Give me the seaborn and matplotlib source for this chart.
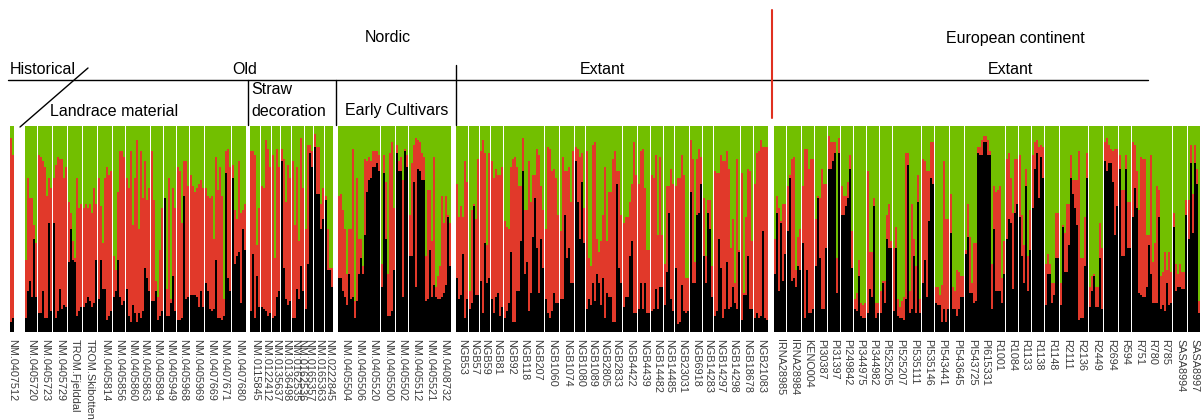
import matplotlib
matplotlib.use("Agg")
import matplotlib.pyplot as plt
import matplotlib.transforms as mtransforms
from matplotlib.lines import Line2D
import pandas as pd
import seaborn as sns

# values as (black %, black+red %); green fills up to 100
historical_labels = ["NM.0407512"]
historical_shared = [1]
historical_bars = [[(5, 94), (7, 86)]]

landrace_labels = ["NM.0405720", "NM.0405723", "NM.0405729", "TROM.Fjelddal", "TROM.Skibotten",
                   "NM.0405814", "NM.0405856", "NM.0405860", "NM.0405863", "NM.0405894",
                   "NM.0405949", "NM.0405968", "NM.0405969", "NM.0407669", "NM.0407671", "NM.0407680"]
landrace_shared = [1, 1, 1, 1, 1, 1, 1, 2, 1, 1, 1, 1, 2, 1]
landrace_bars = [
    [(7, 35), (20, 75), (25, 65), (17, 65), (45, 52), (17, 43)],
    [(9, 86), (9, 85), (20, 83), (7, 80), (7, 66), (53, 75), (10, 70)],
    [(53, 75), (7, 81), (10, 85), (21, 84), (11, 84), (13, 75), (12, 80)],
    [(34, 63), (50, 58), (35, 44), (34, 36), (8, 75), (10, 60), (12, 62)],
    [(12, 60), (14, 62), (17, 60), (15, 62), (12, 58), (14, 70), (35, 62)],
    [(16, 75), (35, 61), (21, 43), (21, 75), (6, 80), (8, 76), (10, 78)],
    [(17, 37), (20, 30), (35, 68), (17, 88), (13, 88), (15, 85)],
    [(21, 75), (8, 70), (5, 88), (13, 52), (9, 75), (5, 93), (9, 50), (7, 88), (10, 65), (31, 83), (26, 64), (20, 70)],
    [(15, 88), (15, 64), (20, 25), (6, 17), (8, 40), (10, 60)],
    [(65, 65), (8, 21), (8, 75), (14, 16), (27, 70), (10, 60)],
    [(6, 80), (6, 78), (7, 53), (66, 83), (16, 83), (17, 71)],
    [(18, 76), (18, 71), (18, 68), (17, 70), (12, 72), (20, 74), (12, 70)],
    [(24, 70), (20, 66), (11, 65), (10, 66), (11, 45), (35, 85), (7, 69), (7, 80), (6, 66), (8, 16), (77, 88), (26, 89), (20, 80)],
    [(75, 81), (33, 59), (37, 55), (39, 83), (14, 58), (50, 59), (40, 62)],
]

straw_labels = ["NM.0115845", "NM.0122412", "NM.0135637", "NM.0136498", "NM.0162535",
                "NM.0162536", "NM.0165357", "NM.0165363", "NM.0222845"]
straw_shared = [1, 1, 1, 1, 2, 1, 1, 1]
straw_bars = [
    [(10, 88), (38, 88), (7, 86), (27, 42), (12, 60)],
    [(12, 71), (11, 70), (10, 93), (8, 89), (9, 80)],
    [(7, 86), (8, 36), (17, 89), (20, 80)],
    [(83, 89), (31, 84), (16, 63), (13, 81), (15, 75)],
    [(7, 83), (7, 52), (21, 80), (16, 44), (32, 94), (20, 70)],
    [(11, 50), (33, 91), (87, 91), (80, 88)],
    [(90, 96), (67, 90), (67, 90), (50, 62), (55, 70)],
    [(64, 66), (30, 50), (30, 31), (22, 31)],
]

early_labels = ["NM.0405504", "NM.0405506", "NM.0405520", "NM.0405500",
                "NM.0405502", "NM.0405512", "NM.0405521", "NM.0408732"]
early_shared = [3, 1, 1, 3]
early_bars = [
    [(26, 66), (26, 67), (20, 59), (17, 50), (13, 28), (28, 50), (16, 50), (17, 89), (7, 15), (15, 75), (28, 45),
     (36, 45), (28, 32), (47, 84), (68, 83), (74, 85), (75, 83), (80, 88), (80, 88), (82, 88), (78, 86)],
    [(22, 33), (77, 86), (45, 73), (8, 28), (8, 87), (10, 92), (30, 60)],
    [(87, 91), (78, 83), (78, 85), (17, 74), (88, 89), (80, 86)],
    [(37, 57), (37, 82), (73, 91), (22, 94), (79, 93), (78, 92), (74, 87), (74, 85), (15, 37), (16, 69), (40, 69),
     (17, 44), (23, 85), (17, 22), (16, 27), (16, 32), (17, 66), (19, 53), (23, 66), (56, 57), (32, 53)],
]

nordic_labels = ["NGB53", "NGB57", "NGB59", "NGB81", "NGB92", "NGB118", "NGB207", "NGB1060", "NGB1074",
                 "NGB1080", "NGB1089", "NGB2805", "NGB2833", "NGB4422", "NGB4439", "NGB14482", "NGB14485",
                 "NGB23031", "NGB6918", "NGB14283", "NGB14297", "NGB14298", "NGB18678", "NGB21083"]
nordic_shared = [1, 1, 1, 1, 3, 1, 1, 1, 3, 1, 1, 1, 1, 1, 1, 1, 2, 1, 1]
nordic_bars = [
    [(26, 72), (16, 56), (18, 61), (38, 56), (7, 83), (16, 73)],
    [(11, 20), (14, 59), (61, 62), (18, 55), (18, 84)],
    [(25, 88), (9, 93), (43, 87), (24, 42), (26, 87)],
    [(16, 83), (9, 75), (17, 79), (19, 76), (8, 76), (12, 80)],
    [(7, 54), (10, 51), (14, 50), (39, 80), (5, 84), (5, 85), (20, 80), (20, 71), (44, 71), (78, 94), (28, 59),
     (34, 59), (10, 83), (19, 63), (46, 76), (65, 76), (41, 89), (19, 86), (45, 71), (31, 59)],
    [(16, 50), (9, 90), (7, 89), (10, 78), (19, 79), (14, 75), (14, 57)],
    [(16, 49), (16, 85), (57, 78), (36, 78), (41, 80), (24, 63), (24, 88)],
    [(83, 90), (63, 89), (45, 85), (73, 87), (43, 60)],
    [(11, 88), (16, 36), (13, 32), (24, 91), (15, 92), (28, 45), (24, 39), (13, 44), (26, 57), (7, 80), (19, 44),
     (17, 68), (17, 68), (5, 84), (5, 88), (72, 78), (31, 78), (24, 57)],
    [(12, 53), (17, 56), (17, 56), (37, 63), (44, 72), (9, 92), (9, 76)],
    [(11, 72), (24, 88), (11, 89), (24, 70), (9, 40), (9, 40)],
    [(10, 76), (11, 75), (21, 86), (11, 47), (22, 85), (22, 47)],
    [(13, 33), (29, 71), (58, 71), (16, 79), (10, 72)],
    [(31, 71), (4, 75), (5, 75), (23, 86), (10, 76), (9, 26), (10, 26)],
    [(68, 93), (24, 84), (24, 34), (57, 84), (58, 89), (72, 85)],
    [(37, 65), (24, 37), (58, 64), (50, 64), (17, 32)],
    [(8, 78), (10, 77), (45, 77), (31, 86), (7, 83), (11, 83), (34, 88), (11, 79), (12, 41), (22, 55), (14, 24),
     (11, 84), (39, 40)],
    [(6, 77), (18, 19), (18, 56), (37, 79), (11, 78), (11, 44)],
    [(7, 72), (9, 87), (7, 88), (8, 93), (49, 90), (7, 90), (6, 90)],
]

europe_labels = ["IRNA28985", "IRNA28984", "KENO004", "PI30387", "PI31397", "PI249842", "PI344975", "PI344982",
                 "PI525205", "PI525207", "PI535111", "PI535146", "PI543441", "PI543645", "PI543725", "PI615331",
                 "R1001", "R1084", "R1133", "R1138", "R1148", "R2111", "R2136", "R2449", "R2694", "R594",
                 "R751", "R780", "R785", "SASA8994", "SASA8997"]
europe_shared = [1, 1, 1, 1, 1, 1, 1, 1, 1, 2, 1, 1, 1, 3, 1, 1, 1, 1, 2, 1, 1, 1, 3, 1, 1]
europe_bars = [
    [(28, 45), (58, 66), (20, 60), (53, 54), (25, 62), (38, 62)],
    [(49, 71), (75, 76), (25, 84), (26, 85), (22, 30), (32, 46), (30, 50)],
    [(43, 71), (7, 89), (30, 89), (9, 79), (9, 84), (11, 84)],
    [(32, 55), (65, 66), (36, 65), (11, 79), (11, 72), (41, 72)],
    [(79, 95), (79, 92), (83, 92), (87, 92), (19, 36), (87, 94)],
    [(57, 71), (57, 66), (61, 66), (65, 73), (79, 86), (31, 49)],
    [(11, 16), (10, 19), (27, 35), (8, 14), (7, 13), (7, 14)],
    [(9, 78), (21, 39), (17, 39), (61, 65), (7, 14), (9, 14)],
    [(9, 20), (24, 25), (14, 25), (45, 57), (41, 62), (41, 44)],
    [(10, 41), (41, 51), (8, 16), (7, 12), (7, 15), (6, 17), (16, 87), (81, 87), (9, 20), (11, 62), (37, 45),
     (9, 32), (63, 76), (9, 16)],
    [(24, 84), (35, 83), (17, 78), (54, 78), (75, 92), (72, 92)],
    [(14, 22), (13, 22), (13, 18), (5, 23), (11, 83), (5, 55), (11, 55)],
    [(48, 67), (11, 22), (11, 20), (8, 30), (11, 29), (17, 27), (17, 27)],
    [(38, 40), (46, 62), (19, 46), (19, 24), (14, 43), (15, 43), (87, 90), (86, 90), (86, 93), (92, 95), (92, 95),
     (86, 93), (86, 88), (11, 33), (50, 71), (20, 68), (20, 69), (20, 71), (14, 26), (28, 44)],
    [(45, 84), (55, 87), (53, 75), (21, 58), (58, 84), (62, 84)],
    [(56, 86), (37, 57), (24, 42), (71, 79), (20, 37), (40, 59)],
    [(60, 86), (79, 92), (87, 93), (65, 90), (85, 91), (75, 90)],
    [(13, 33), (28, 38), (28, 33), (14, 24), (18, 24), (36, 58), (36, 58)],
    [(13, 24), (51, 52), (29, 48), (29, 62), (42, 62), (75, 86), (67, 74), (60, 74), (52, 74), (6, 88), (7, 36),
     (7, 36), (32, 56), (75, 87)],
    [(12, 22), (20, 27), (27, 28), (12, 22), (12, 22), (36, 53), (11, 41)],
    [(83, 92), (78, 94), (82, 91), (82, 89), (73, 88), (47, 89), (61, 89)],
    [(79, 86), (37, 69), (37, 69), (79, 86), (41, 63), (41, 63)],
    [(56, 92), (70, 91), (60, 78), (19, 59), (18, 85), (17, 84), (17, 84), (22, 47), (42, 47), (28, 86), (14, 34),
     (14, 43), (14, 71), (56, 69), (11, 27), (13, 29), (10, 39), (24, 30), (13, 39), (14, 29)],
    [(51, 58), (20, 33), (22, 28), (22, 33), (21, 29), (21, 29), (57, 64)],
    [(45, 64), (82, 91), (48, 67), (82, 91), (72, 79), (9, 15)],
]

GREEN = "#72bf00"
RED = "#e1392a"
BLACK = "#000000"
W, H = 1204, 420

# blank slots before each section, white separator between accessions
sections = [
    (0, historical_labels, historical_shared, historical_bars),
    (5.5, landrace_labels, landrace_shared, landrace_bars),
    (2, straw_labels, straw_shared, straw_bars),
    (2.5, early_labels, early_shared, early_bars),
    (2.5, nordic_labels, nordic_shared, nordic_bars),
    (3, europe_labels, europe_shared, europe_bars),
]
SEP = 0.5

rows = []
ticks = []
x = 0.0
for gap, labels, shared, blocks in sections:
    x += gap
    li = 0
    for k, bars in zip(shared, blocks):
        start = x
        for b, u in bars:
            rows.append({"pos": x + 0.5, "black": b, "upper": u, "total": 100})
            x += 1
        for j in range(k):
            ticks.append((start + (j + 0.5) * (x - start) / k, labels[li]))
            li += 1
        x += SEP
    x -= SEP
df = pd.DataFrame(rows)

sns.set_theme(style="white")
plt.rcParams["font.family"] = ["Liberation Sans", "DejaVu Sans"]

fig = plt.figure(figsize=(W / 100, H / 100), dpi=100)
ax = fig.add_axes([0, 88 / H, 1, 206 / H])
bar_kw = dict(x="pos", native_scale=True, width=1, saturation=1, errorbar=None,
              linewidth=0, edgecolor="none", antialiased=False, ax=ax)
sns.barplot(data=df, y="total", color=GREEN, **bar_kw)
sns.barplot(data=df, y="upper", color=RED, **bar_kw)
sns.barplot(data=df, y="black", color=BLACK, **bar_kw)
ax.set_xlim(-5, 597)
ax.set_ylim(0, 100)
ax.axis("off")

trans = mtransforms.blended_transform_factory(ax.transData, fig.transFigure)
for tx, name in ticks:
    ax.text(tx, 1 - 339 / H, name, transform=trans, rotation=-90, ha="center", va="top",
            fontsize=7.8, color="#3a3a3a")


def fx(p):
    return p / W


def fy(p):
    return 1 - p / H


def seg(x0, y0, x1, y1, color="black", lw=1.0):
    fig.add_artist(Line2D([fx(x0), fx(x1)], [fy(y0), fy(y1)], transform=fig.transFigure,
                          color=color, lw=lw))


def label(px, py, s, ha="center"):
    fig.text(fx(px), fy(py), s, ha=ha, va="center", fontsize=11.5, color="black")


label(388, 38, "Nordic")
label(1015, 38, "European continent")
label(10, 70, "Historical", ha="left")
label(245, 70, "Old")
label(602, 70, "Extant")
label(1010, 70, "Extant")
label(50, 111, "Landrace material", ha="left")
label(251, 90, "Straw", ha="left")
label(251, 111, "decoration", ha="left")
label(345, 111, "Early Cultivars", ha="left")

seg(8, 80, 1148, 80)
seg(20, 127, 88, 68)
seg(248, 80, 248, 125)
seg(336, 80, 336, 125)
seg(456, 65, 456, 125)
seg(772, 10, 772, 118, color="#e03020", lw=1.5)

fig.savefig("out.png", dpi=100)
